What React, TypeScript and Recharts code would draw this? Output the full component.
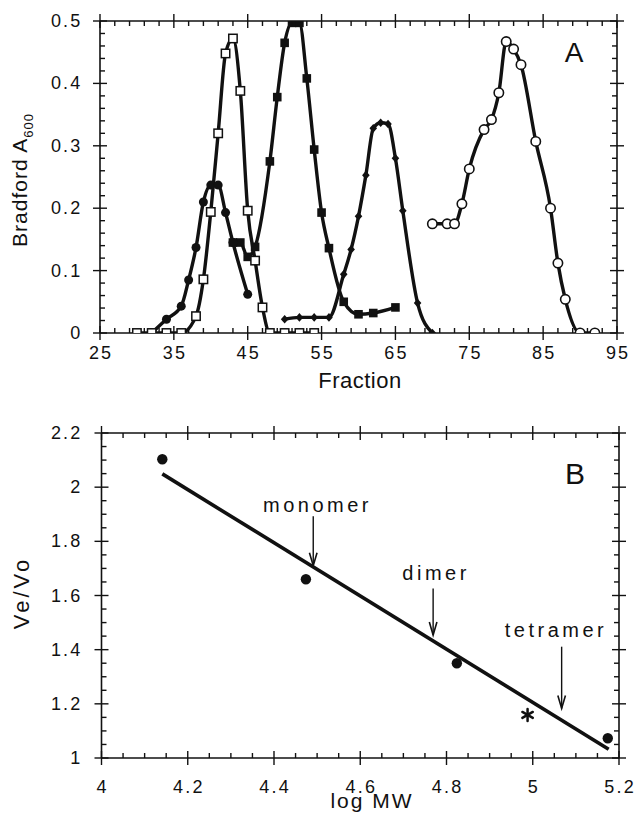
import React from "react";
import { ComposedChart, Line, Scatter, XAxis, YAxis, ReferenceLine } from "recharts";

const FONT = '"Liberation Sans", Arial, Helvetica, sans-serif';
const INK = "#111";

// ---- Panel A: elution profiles, Bradford A600 per fraction
const filledCircleFraction = [32, 34, 36, 37, 38, 39, 40, 41, 42, 43, 45];
const filledCircleA600 = [0, 0.022, 0.043, 0.085, 0.137, 0.21, 0.237, 0.237, 0.193, 0.145, 0.062];

const openSquareFraction = [30, 32, 34, 36, 38, 39, 40, 41, 42, 43, 44, 45, 46, 47, 48, 50, 52, 54];
const openSquareA600 = [0, 0, 0, 0, 0.027, 0.086, 0.194, 0.32, 0.448, 0.472, 0.388, 0.196, 0.116, 0.041, 0, 0, 0, 0];

const filledSquareFraction = [43, 44, 45, 46, 48, 49, 50, 51, 52, 53, 54, 55, 56, 58, 60, 62, 65];
const filledSquareA600 = [0.145, 0.145, 0.122, 0.138, 0.275, 0.378, 0.465, 0.497, 0.497, 0.408, 0.294, 0.193, 0.136, 0.05, 0.03, 0.032, 0.041];

const diamondFraction = [50, 52, 54, 56, 58, 59, 60, 61, 62, 63, 64, 65, 66, 68, 70];
const diamondA600 = [0.022, 0.025, 0.025, 0.025, 0.094, 0.134, 0.187, 0.253, 0.328, 0.337, 0.335, 0.28, 0.196, 0.048, 0];

const openCircleFraction = [70, 72, 73, 74, 75, 77, 78, 79, 80, 81, 82, 84, 86, 87, 88, 90, 92];
const openCircleA600 = [0.175, 0.175, 0.175, 0.207, 0.263, 0.326, 0.342, 0.385, 0.467, 0.455, 0.43, 0.307, 0.2, 0.112, 0.054, 0, 0];

const fractionTicks = [25, 35, 45, 55, 65, 75, 85, 95];
const a600Ticks = [0, 0.1, 0.2, 0.3, 0.4, 0.5];

// ---- Panel B: calibration, Ve/Vo vs log MW
const standardLogMW = [4.141, 4.474, 4.824, 5.174];
const standardVeVo = [2.103, 1.66, 1.35, 1.073];
const unknownLogMW = [4.988];
const unknownVeVo = [1.159];
const fitLogMW = [4.141, 5.176];
const fitVeVo = [2.049, 1.032];

const oligomerNames = ["monomer", "dimer", "tetramer"];
const oligomerLogMW = [4.491, 4.769, 5.067];
const arrowStartVeVo = [1.893, 1.626, 1.411];
const arrowTipVeVo = [1.71, 1.454, 1.183];
const labelLogMW = [4.497, 4.772, 5.05];
const labelVeVo = [1.934, 1.682, 1.473];

const logMWTicks = [4, 4.2, 4.4, 4.6, 4.8, 5, 5.2];
const veVoTicks = [1, 1.2, 1.4, 1.6, 1.8, 2, 2.2];

const toPoints = (xs: number[], ys: number[]) => xs.map((x, i) => ({ x, y: ys[i] }));

// every tick position (majors + minors) on a regular grid
function tickGrid(from: number, to: number, step: number) {
  const out: number[] = [];
  const n = Math.round((to - from) / step);
  for (let i = 0; i <= n; i++) out.push(+(from + i * step).toFixed(4));
  return out;
}

const fmt = (v: number) => String(Math.round(v * 100) / 100);

function FrameTick(props: any) {
  const { x, y, payload, side, majors, gap, fontSize = 18 } = props;
  const v = Number(payload.value);
  const major = majors.some((m: number) => Math.abs(m - v) < 1e-6);
  const big = 7;
  const small = 5;
  let l: number[];
  if (side === "bottom") l = major ? [x, y - big, x, y + big] : [x, y - small, x, y];
  else if (side === "top") l = major ? [x, y - big, x, y + big] : [x, y, x, y + small];
  else if (side === "left") l = major ? [x - big, y, x + big, y] : [x, y, x + small, y];
  else l = major ? [x - big, y, x + big, y] : [x - small, y, x, y];
  const textStyle = { fontFamily: FONT, fontSize, letterSpacing: 2.2, fill: INK };
  return (
    <g>
      <line x1={l[0]} y1={l[1]} x2={l[2]} y2={l[3]} stroke={INK} strokeWidth={1.4} />
      {major && gap != null && side === "bottom" && (
        <text x={x + 1.1} y={y + gap} textAnchor="middle" dominantBaseline="central" style={textStyle}>
          {fmt(v)}
        </text>
      )}
      {major && gap != null && side === "left" && (
        <text x={x - gap} y={y} textAnchor="end" dominantBaseline="central" style={textStyle}>
          {fmt(v)}
        </text>
      )}
    </g>
  );
}

const axisLine = { stroke: INK, strokeWidth: 1.6 };

const openSquare = (p: any) => (
  <rect key={`os${p.index}`} x={p.cx - 4.2} y={p.cy - 4.2} width={8.4} height={8.4} fill="#fff" stroke={INK} strokeWidth={1.5} />
);
const filledSquare = (p: any) => (
  <rect key={`fs${p.index}`} x={p.cx - 4.3} y={p.cy - 4.3} width={8.6} height={8.6} fill={INK} />
);
const filledCircle = (p: any) => <circle key={`fc${p.index}`} cx={p.cx} cy={p.cy} r={4.5} fill={INK} />;
const openCircle = (p: any) => (
  <circle key={`oc${p.index}`} cx={p.cx} cy={p.cy} r={4.7} fill="#fff" stroke={INK} strokeWidth={1.6} />
);
const diamond = (p: any) => (
  <path
    key={`dm${p.index}`}
    d={`M${p.cx},${p.cy - 4.3} L${p.cx + 3.8},${p.cy} L${p.cx},${p.cy + 4.3} L${p.cx - 3.8},${p.cy} Z`}
    fill={INK}
  />
);

const asterisk = (p: any) => (
  <g stroke={INK} strokeWidth={2.5} strokeLinecap="round">
    <line x1={p.cx} y1={p.cy - 6} x2={p.cx} y2={p.cy + 6} />
    <line x1={p.cx - 5.2} y1={p.cy - 3} x2={p.cx + 5.2} y2={p.cy + 3} />
    <line x1={p.cx - 5.2} y1={p.cy + 3} x2={p.cx + 5.2} y2={p.cy - 3} />
  </g>
);

function ArrowShape(props: any) {
  const { x1, y1, x2, y2 } = props;
  return (
    <g stroke={INK} strokeWidth={1.4} fill="none">
      <line x1={x1} y1={y1} x2={x2} y2={y2} />
      <path d={`M${x2 - 3.8},${y2 - 13} L${x2},${y2} L${x2 + 3.8},${y2 - 13}`} strokeWidth={1.6} />
    </g>
  );
}

const labelText = (p: any) => (
  <text
    x={p.cx + 1.7}
    y={p.cy}
    textAnchor="middle"
    dominantBaseline="central"
    style={{ fontFamily: FONT, fontSize: 20, letterSpacing: 3.5, fill: INK }}
  >
    {p.payload.name}
  </text>
);

const abs = (left: number, top: number, extra: React.CSSProperties = {}): React.CSSProperties => ({
  position: "absolute",
  left,
  top,
  transform: "translate(-50%, -50%)",
  whiteSpace: "nowrap",
  lineHeight: 1,
  fontFamily: FONT,
  color: INK,
  ...extra,
});

const CURVE = 3.4;

export default function App() {
  const fracGrid = tickGrid(25, 95, 2);
  const a600Grid = tickGrid(0, 0.5, 0.02);
  const mwGrid = tickGrid(4, 5.2, 0.05);
  const veGrid = tickGrid(1, 2.2, 0.05);

  const labels = oligomerNames.map((name, i) => ({ x: labelLogMW[i], y: labelVeVo[i], name }));

  return (
    <div style={{ position: "absolute", left: 0, top: 0, width: 636, height: 814, background: "#fff", overflow: "hidden" }}>
      {/* Panel A */}
      <div style={{ position: "absolute", left: 0, top: 0 }}>
        <ComposedChart width={636} height={400} margin={{ top: 11, right: 9, bottom: 37, left: 40 }}>
          <XAxis
            xAxisId="b"
            type="number"
            dataKey="x"
            domain={[25, 95]}
            ticks={fracGrid}
            interval={0}
            allowDataOverflow
            height={30}
            tickSize={0}
            tickMargin={0}
            tickLine={false}
            axisLine={axisLine}
            tick={(p: any) => <FrameTick {...p} side="bottom" majors={fractionTicks} gap={20} />}
          />
          <XAxis
            xAxisId="t"
            orientation="top"
            type="number"
            dataKey="x"
            domain={[25, 95]}
            ticks={fracGrid}
            interval={0}
            allowDataOverflow
            height={10}
            tickSize={0}
            tickMargin={0}
            tickLine={false}
            axisLine={axisLine}
            tick={(p: any) => <FrameTick {...p} side="top" majors={fractionTicks} />}
          />
          <YAxis
            yAxisId="l"
            type="number"
            dataKey="y"
            domain={[0, 0.5]}
            ticks={a600Grid}
            interval={0}
            allowDataOverflow
            width={60}
            tickSize={0}
            tickMargin={0}
            tickLine={false}
            axisLine={axisLine}
            tick={(p: any) => <FrameTick {...p} side="left" majors={a600Ticks} gap={17.5} />}
          />
          <YAxis
            yAxisId="r"
            orientation="right"
            type="number"
            dataKey="y"
            domain={[0, 0.5]}
            ticks={a600Grid}
            interval={0}
            allowDataOverflow
            width={10}
            tickSize={0}
            tickMargin={0}
            tickLine={false}
            axisLine={axisLine}
            tick={(p: any) => <FrameTick {...p} side="right" majors={a600Ticks} />}
          />

          <Line
            xAxisId="b"
            yAxisId="l"
            data={toPoints(diamondFraction, diamondA600)}
            dataKey="y"
            type="monotone"
            stroke={INK}
            strokeWidth={CURVE}
            dot={diamond}
            isAnimationActive={false}
          />
          <Line
            xAxisId="b"
            yAxisId="l"
            data={toPoints(filledSquareFraction, filledSquareA600)}
            dataKey="y"
            type="monotone"
            stroke={INK}
            strokeWidth={CURVE}
            dot={filledSquare}
            isAnimationActive={false}
          />
          <Line
            xAxisId="b"
            yAxisId="l"
            data={toPoints(filledCircleFraction, filledCircleA600)}
            dataKey="y"
            type="monotone"
            stroke={INK}
            strokeWidth={CURVE}
            dot={filledCircle}
            isAnimationActive={false}
          />
          <Line
            xAxisId="b"
            yAxisId="l"
            data={toPoints(openSquareFraction, openSquareA600)}
            dataKey="y"
            type="monotone"
            stroke={INK}
            strokeWidth={CURVE}
            dot={openSquare}
            isAnimationActive={false}
          />
          <Line
            xAxisId="b"
            yAxisId="l"
            data={toPoints(openCircleFraction, openCircleA600)}
            dataKey="y"
            type="monotone"
            stroke={INK}
            strokeWidth={CURVE}
            dot={openCircle}
            isAnimationActive={false}
          />
        </ComposedChart>
      </div>

      {/* Panel B */}
      <div style={{ position: "absolute", left: 0, top: 400 }}>
        <ComposedChart width={636} height={414} margin={{ top: 23, right: 7, bottom: 26, left: 41.5 }}>
          <XAxis
            xAxisId="b"
            type="number"
            dataKey="x"
            domain={[4, 5.2]}
            ticks={mwGrid}
            interval={0}
            allowDataOverflow
            height={30}
            tickSize={0}
            tickMargin={0}
            tickLine={false}
            axisLine={axisLine}
            tick={(p: any) => <FrameTick {...p} side="bottom" majors={logMWTicks} gap={29} />}
          />
          <XAxis
            xAxisId="t"
            orientation="top"
            type="number"
            dataKey="x"
            domain={[4, 5.2]}
            ticks={mwGrid}
            interval={0}
            allowDataOverflow
            height={10}
            tickSize={0}
            tickMargin={0}
            tickLine={false}
            axisLine={axisLine}
            tick={(p: any) => <FrameTick {...p} side="top" majors={logMWTicks} />}
          />
          <YAxis
            yAxisId="l"
            type="number"
            dataKey="y"
            domain={[1, 2.2]}
            ticks={veGrid}
            interval={0}
            allowDataOverflow
            width={60}
            tickSize={0}
            tickMargin={0}
            tickLine={false}
            axisLine={axisLine}
            tick={(p: any) => <FrameTick {...p} side="left" majors={veVoTicks} gap={19} />}
          />
          <YAxis
            yAxisId="r"
            orientation="right"
            type="number"
            dataKey="y"
            domain={[1, 2.2]}
            ticks={veGrid}
            interval={0}
            allowDataOverflow
            width={10}
            tickSize={0}
            tickMargin={0}
            tickLine={false}
            axisLine={axisLine}
            tick={(p: any) => <FrameTick {...p} side="right" majors={veVoTicks} />}
          />

          <Line
            xAxisId="b"
            yAxisId="l"
            data={toPoints(fitLogMW, fitVeVo)}
            dataKey="y"
            type="linear"
            stroke={INK}
            strokeWidth={3.6}
            dot={false}
            isAnimationActive={false}
          />
          <Scatter
            xAxisId="b"
            yAxisId="l"
            data={toPoints(standardLogMW, standardVeVo)}
            dataKey="y"
            shape={(p: any) => <circle cx={p.cx} cy={p.cy} r={5.2} fill={INK} />}
            isAnimationActive={false}
          />
          <Scatter
            xAxisId="b"
            yAxisId="l"
            data={toPoints(unknownLogMW, unknownVeVo)}
            dataKey="y"
            shape={asterisk}
            isAnimationActive={false}
          />
          {oligomerNames.map((name, i) => (
            <ReferenceLine
              key={name}
              xAxisId="b"
              yAxisId="l"
              segment={[
                { x: oligomerLogMW[i], y: arrowStartVeVo[i] },
                { x: oligomerLogMW[i], y: arrowTipVeVo[i] },
              ]}
              shape={ArrowShape}
            />
          ))}
          <Scatter xAxisId="b" yAxisId="l" data={labels} dataKey="y" shape={labelText} isAnimationActive={false} />
        </ComposedChart>
      </div>

      {/* axis titles and panel letters */}
      <div style={abs(22, 180, { fontSize: 21, letterSpacing: 1, transform: "translate(-50%, -50%) rotate(-90deg)" })}>
        Bradford A<sub style={{ fontSize: 13, letterSpacing: 1 }}>600</sub>
      </div>
      <div style={abs(360, 381, { fontSize: 22, letterSpacing: 0.5 })}>Fraction</div>
      <div style={abs(574, 53, { fontSize: 28 })}>A</div>

      <div style={abs(22, 593, { fontSize: 22, letterSpacing: 3, transform: "translate(-50%, -50%) rotate(-90deg)" })}>Ve/Vo</div>
      <div style={abs(372, 800, { fontSize: 21, letterSpacing: 2 })}>log MW</div>
      <div style={abs(575, 474, { fontSize: 30 })}>B</div>
    </div>
  );
}
